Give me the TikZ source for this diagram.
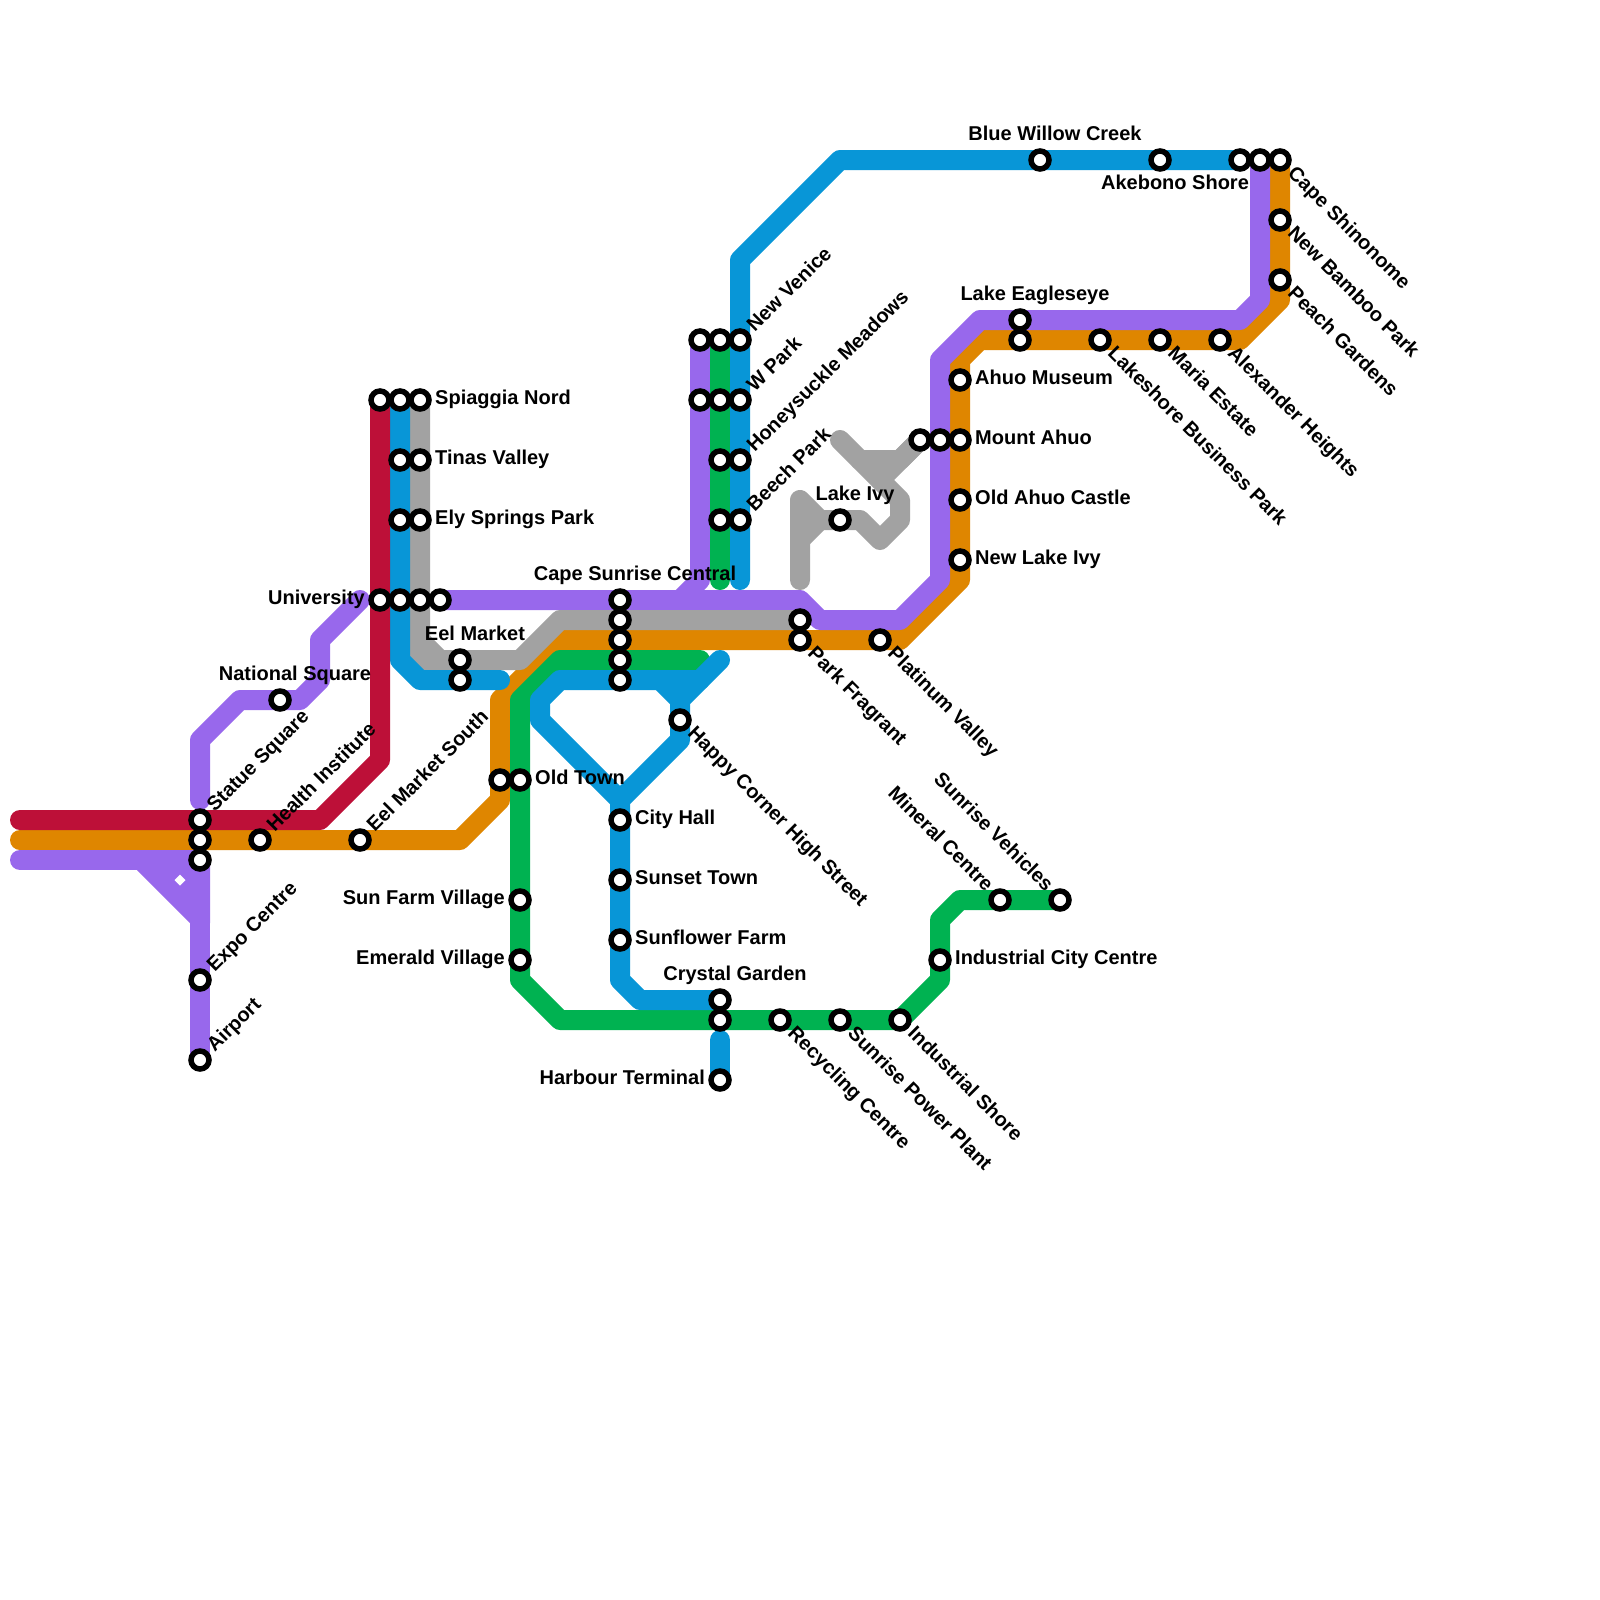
\documentclass[tikz,border=0pt]{standalone}
\usepackage{fontspec}
\setmainfont{Liberation Sans}
\definecolor{cred}{HTML}{BD1038}
\definecolor{corange}{HTML}{DF8600}
\definecolor{cpurple}{HTML}{9868EC}
\definecolor{cgray}{HTML}{A2A2A2}
\definecolor{cgreen}{HTML}{00B251}
\definecolor{cblue}{HTML}{0896D7}
\tikzset{
 metro/.style={line width=20pt,line cap=round,line join=round},
 stn/.style={circle,draw=black,fill=white,line width=5.5pt,minimum size=18pt,inner sep=0pt},
 lbl/.style={font=\fontsize{20}{24}\selectfont\bfseries,inner sep=0pt,text=black},
 lr/.style={lbl,anchor=mid west,xshift=15pt,yshift=-2pt},
 ll/.style={lbl,anchor=mid east,xshift=-15pt,yshift=-2pt},
 la/.style={lbl,anchor=mid,xshift=15pt,yshift=22pt},
 lb/.style={lbl,anchor=mid,xshift=15pt,yshift=-27pt},
 lur/.style={lbl,anchor=mid west,rotate=45,xshift=15.3pt,yshift=-2.9pt},
 ldr/.style={lbl,anchor=mid west,rotate=-45,xshift=15.1pt,yshift=-2.8pt},
 lul/.style={lbl,anchor=mid east,rotate=-45,xshift=-15.5pt,yshift=-2.5pt},
}
\begin{document}
\begin{tikzpicture}[x=1pt,y=-1pt]
\useasboundingbox (0,0) rectangle (1600,1600);
\fill[white] (0,0) rectangle (1600,1600);
% orange
\draw[metro,corange] (20,840)--(460,840)--(500,800)--(500,700)--(560,640)--(900,640)--(960,580)--(960,360)--(980,340)--(1240,340)--(1280,300)--(1280,160);
% purple
\fill[cpurple] (137,870)--(190,923)--(210,923)--(210,860)--(137,860)--cycle;
\fill[white] (180,874.5)--(185.5,880)--(180,885.5)--(174.5,880)--cycle;
\draw[metro,cpurple] (20,860)--(200,860)--(200,1060);
\draw[metro,cpurple] (200,800)--(200,740)--(240,700)--(300,700)--(320,680)--(320,640)--(360,600);
\draw[metro,cpurple] (440,600)--(800,600)--(820,620)--(900,620)--(940,580)--(940,360)--(980,320)--(1240,320)--(1260,300)--(1260,160);
\draw[metro,cpurple] (680,600)--(700,580)--(700,340);
% gray
\draw[metro,cgray] (420,400)--(420,660)--(520,660)--(560,620)--(800,620);
\draw[metro,cgray] (420,640)--(440,660);
\draw[metro,cgray] (800,580)--(800,500)--(820,520)--(860,520)--(880,540)--(900,520)--(900,500)--(840,440);
\draw[metro,cgray] (800,540)--(820,520);
\draw[metro,cgray] (860,460)--(900,460)--(920,440);
\draw[metro,cgray] (880,480)--(920,440);
% green
\draw[metro,cgreen] (720,340)--(720,580);
\draw[metro,cgreen] (700,660)--(560,660)--(520,700)--(520,980)--(560,1020)--(900,1020)--(940,980)--(940,920)--(960,900)--(1060,900);
% blue
\draw[metro,cblue] (400,400)--(400,660)--(420,680)--(500,680);
\draw[metro,cblue] (740,580)--(740,260)--(840,160)--(1240,160);
\draw[metro,cblue] (720,660)--(680,700)--(680,740)--(620,800)--(620,980)--(640,1000)--(720,1000);
\draw[metro,cblue] (700,680)--(560,680)--(540,700)--(540,720)--(620,800);
\draw[metro,cblue] (660,680)--(680,700);
\draw[metro,cblue] (720,1040)--(720,1080);
% red
\draw[metro,cred] (20,820)--(320,820)--(380,760)--(380,400);
% stations
\node[stn] (s01) at (380,400) {};
\node[stn] (s02) at (400,400) {};
\node[stn] (s03) at (420,400) {};
\node[stn] (s04) at (400,460) {};
\node[stn] (s05) at (420,460) {};
\node[stn] (s06) at (400,520) {};
\node[stn] (s07) at (420,520) {};
\node[stn] (s08) at (380,600) {};
\node[stn] (s09) at (400,600) {};
\node[stn] (s10) at (420,600) {};
\node[stn] (s11) at (440,600) {};
\node[stn] (s12) at (200,820) {};
\node[stn] (s13) at (200,840) {};
\node[stn] (s14) at (200,860) {};
\node[stn] (s15) at (260,840) {};
\node[stn] (s16) at (360,840) {};
\node[stn] (s17) at (280,700) {};
\node[stn] (s18) at (200,980) {};
\node[stn] (s19) at (200,1060) {};
\node[stn] (s20) at (460,660) {};
\node[stn] (s21) at (460,680) {};
\node[stn] (s22) at (500,780) {};
\node[stn] (s23) at (520,780) {};
\node[stn] (s24) at (520,900) {};
\node[stn] (s25) at (520,960) {};
\node[stn] (s26) at (620,600) {};
\node[stn] (s27) at (620,620) {};
\node[stn] (s28) at (620,640) {};
\node[stn] (s29) at (620,660) {};
\node[stn] (s30) at (620,680) {};
\node[stn] (s31) at (680,720) {};
\node[stn] (s32) at (620,820) {};
\node[stn] (s33) at (620,880) {};
\node[stn] (s34) at (620,940) {};
\node[stn] (s35) at (720,1000) {};
\node[stn] (s36) at (720,1020) {};
\node[stn] (s37) at (720,1080) {};
\node[stn] (s38) at (780,1020) {};
\node[stn] (s39) at (840,1020) {};
\node[stn] (s40) at (900,1020) {};
\node[stn] (s41) at (940,960) {};
\node[stn] (s42) at (1000,900) {};
\node[stn] (s43) at (1060,900) {};
\node[stn] (s44) at (800,620) {};
\node[stn] (s45) at (800,640) {};
\node[stn] (s46) at (880,640) {};
\node[stn] (s47) at (700,340) {};
\node[stn] (s48) at (720,340) {};
\node[stn] (s49) at (740,340) {};
\node[stn] (s50) at (700,400) {};
\node[stn] (s51) at (720,400) {};
\node[stn] (s52) at (740,400) {};
\node[stn] (s53) at (720,460) {};
\node[stn] (s54) at (740,460) {};
\node[stn] (s55) at (720,520) {};
\node[stn] (s56) at (740,520) {};
\node[stn] (s57) at (840,520) {};
\node[stn] (s58) at (920,440) {};
\node[stn] (s59) at (940,440) {};
\node[stn] (s60) at (960,440) {};
\node[stn] (s61) at (960,380) {};
\node[stn] (s62) at (960,500) {};
\node[stn] (s63) at (960,560) {};
\node[stn] (s64) at (1020,320) {};
\node[stn] (s65) at (1020,340) {};
\node[stn] (s66) at (1100,340) {};
\node[stn] (s67) at (1160,340) {};
\node[stn] (s68) at (1220,340) {};
\node[stn] (s69) at (1040,160) {};
\node[stn] (s70) at (1160,160) {};
\node[stn] (s71) at (1240,160) {};
\node[stn] (s72) at (1260,160) {};
\node[stn] (s73) at (1280,160) {};
\node[stn] (s74) at (1280,220) {};
\node[stn] (s75) at (1280,280) {};
% labels
\node[lr] (t03) at (s03) {Spiaggia Nord};
\node[lr] (t05) at (s05) {Tinas Valley};
\node[lr] (t07) at (s07) {Ely Springs Park};
\node[ll] (t08) at (s08) {University};
\node[lur] (t12) at (s12) {Statue Square};
\node[lur] (t15) at (s15) {Health Institute};
\node[lur] (t16) at (s16) {Eel Market South};
\node[la] (t17) at (s17) {National Square};
\node[lur] (t18) at (s18) {Expo Centre};
\node[lur] (t19) at (s19) {Airport};
\node[la] (t20) at (s20) {Eel Market};
\node[lr] (t23) at (s23) {Old Town};
\node[ll] (t24) at (s24) {Sun Farm Village};
\node[ll] (t25) at (s25) {Emerald Village};
\node[la] (t26) at (s26) {Cape Sunrise Central};
\node[ldr] (t31) at (s31) {Happy Corner High Street};
\node[lr] (t32) at (s32) {City Hall};
\node[lr] (t33) at (s33) {Sunset Town};
\node[lr] (t34) at (s34) {Sunflower Farm};
\node[la] (t35) at (s35) {Crystal Garden};
\node[ll] (t37) at (s37) {Harbour Terminal};
\node[ldr] (t38) at (s38) {Recycling Centre};
\node[ldr] (t39) at (s39) {Sunrise Power Plant};
\node[ldr] (t40) at (s40) {Industrial Shore};
\node[lr] (t41) at (s41) {Industrial City Centre};
\node[lul] (t42) at (s42) {Mineral Centre};
\node[lul] (t43) at (s43) {Sunrise Vehicles};
\node[ldr] (t45) at (s45) {Park Fragrant};
\node[ldr] (t46) at (s46) {Platinum Valley};
\node[lur] (t49) at (s49) {New Venice};
\node[lur] (t52) at (s52) {W Park};
\node[lur] (t54) at (s54) {Honeysuckle Meadows};
\node[lur] (t56) at (s56) {Beech Park};
\node[la] (t57) at (s57) {Lake Ivy};
\node[lr] (t60) at (s60) {Mount Ahuo};
\node[lr] (t61) at (s61) {Ahuo Museum};
\node[lr] (t62) at (s62) {Old Ahuo Castle};
\node[lr] (t63) at (s63) {New Lake Ivy};
\node[la] (t64) at (s64) {Lake Eagleseye};
\node[ldr] (t66) at (s66) {Lakeshore Business Park};
\node[ldr] (t67) at (s67) {Maria Estate};
\node[ldr] (t68) at (s68) {Alexander Heights};
\node[la] (t69) at (s69) {Blue Willow Creek};
\node[lb] (t70) at (s70) {Akebono Shore};
\node[ldr] (t73) at (s73) {Cape Shinonome};
\node[ldr] (t74) at (s74) {New Bamboo Park};
\node[ldr] (t75) at (s75) {Peach Gardens};
\end{tikzpicture}
\end{document}
